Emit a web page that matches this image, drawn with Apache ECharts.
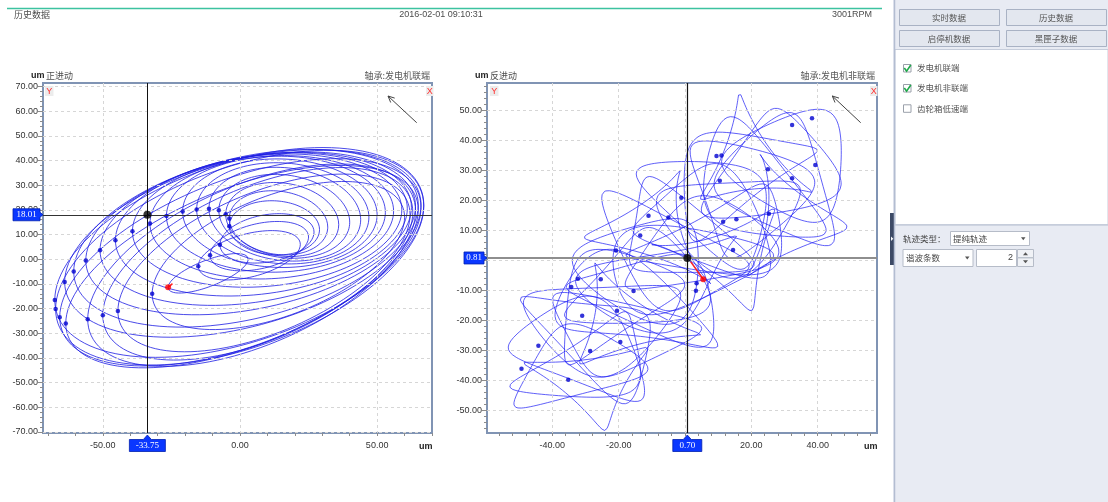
<!DOCTYPE html>
<html><head><meta charset="utf-8">
<script src="https://cdn.jsdelivr.net/npm/echarts@6/dist/echarts.min.js"></script>
<style>html,body{margin:0;padding:0;background:#fff;}#c{width:1108px;height:502px;}</style>
</head><body><div id="c"></div>
<script>
// ---------------- DATA ----------------
// Left orbit (正进动, 发电机联端): one ellipse per revolution, given by its key-phasor (left) tip,
// its right tip and its half height, all read from the picture.
const leftTipX   = [-32,-44.5,-50,-55.5,-63.5,-65.7,-67.2,-67.5,-63.9,-60.6,-56.2,-51,-45.4,-39.2,-32.8,-26.8,-20.9,-15.8,-11.3,-7.7,-5.2,-3.9,-3.9,-7.3,-10.9,-15.2,-26.2];
const leftTipY   = [-14,-21,-22.7,-24.3,-26,-23.5,-20.2,-16.5,-9.2,-5,-0.5,3.6,7.7,11.3,14.5,17.5,19.3,20.2,20.5,19.8,18.2,16.5,13.4,5.9,1.6,-2.8,-11.4];
const leftRightX = [60,62,63,64,65,66,67,67,66,65,64,62.5,61,59,56,53,50,47,44,40,36,32,29,27,25,22,3];
const leftRightY = [17,18,19,19.5,20,21,21.5,22,22,22,21.5,21,20.5,20,19.5,19,18,17,16,15,14,13,12,11,9,6,0];
const leftHalfH  = [30,36,39,41,41,42,43.5,42.5,38,36,33,31,29,27,25,23.5,22,20.5,19,17,15,13,11,10,10,10,8];
const leftCursor = [-33.75, 18.01];
const leftRedX = [-24.6,-26.2];
const leftRedY = [-9.9,-11.4];

// Right orbit (反进动, 发电机非联端): per-revolution 1X + 2X (提纯轨迹, 2 harmonics)
const rightCx = [-33,-31,-29,-27,-25,-20,-22,-16,-14,-10,-12,-6,-4,0,-2,4,6,10,8,14,18,16,22,26,29,32,-18,12,-8,20,30,-28];
const rightCy = [-36,-30,-34,-26,-20,-24,-14,-16,-8,-12,-2,-6,2,-2,8,4,12,8,18,14,22,28,24,30,26,32,-20,2,10,33,14,-40];
const r1Ax = [19,20,19,19,23,21,18,24,20,22,19,23,21,24,18,22,20,23,19,21,17,20,18,19,17,18,16,17,15,14,12,16];
const r1Ay = [13,16,14,17,15,13,18,15,16,14,17,15,18,14,16,15,17,14,18,16,19,17,20,18,21,18,14,13,16,16,18,12];
const r1Px = [0,35,80,120,165,210,250,290,335,15,60,100,145,190,230,275,320,5,50,95,140,185,230,270,315,355,40,200,300,120,260,90];
const r1Py = [290,285,20,0,80,110,185,175,260,270,330,40,25,110,120,205,220,300,295,10,45,125,110,195,210,265,300,110,200,20,170,0];
const r2Ax = [4,3,5,4,3,5,4,3,5,4,3,5,4,3,5,4,3,5,4,3,5,4,3,5,4,3,7,6,8,6,7,6];
const r2Ay = [3,4,3,5,4,3,4,5,3,4,3,4,5,3,4,3,5,4,3,4,3,5,4,3,4,3,6,7,6,7,6,5];
const r2Px = [60,200,320,90,240,10,150,280,45,190,300,70,220,350,120,260,30,170,310,80,230,0,140,270,40,180,100,250,20,300,180,60];
const r2Py = [150,290,60,200,330,110,250,20,160,300,70,210,340,100,240,10,150,280,50,190,320,100,230,0,130,270,190,340,110,30,270,150];
const rightKeyX = [38.3,32.3,9.5,11,25,39.3,32.3,10.5,-1.1,-11,-5,11.5,15.5,25.3,-13.5,-20.8,14.5,-32.3,-25.4,-34.3,-15.5,3.5,3.3,-28.6,-44.2,-49.3,-35.2,-19.5,-20.5,-31];
const rightKeyY = [47.4,45.2,34.8,35,30.4,31.8,27.4,26.6,20.9,14.9,14.3,12.9,13.7,15.6,8.3,3.3,3.5,-6.1,-6.3,-8.9,-10.2,-7.6,-10.1,-30.2,-28.5,-36.2,-39.8,-27.2,-16.8,-18.5];
const rightCursor = [0.70, 0.81];
const rightRedX = [1.7,5.5];
const rightRedY = [-0.4,-6.3];

// Axis labels
const leftXLabels = [-50,0,50];
const leftYLabels = [-70,-60,-50,-40,-30,-20,-10,0,10,20,30,40,50,60,70];
const rightXLabels = [-40,-20,0,20,40];
const rightYLabels = [-50,-40,-30,-20,-10,0,10,20,30,40,50];

// ---------------- BUILD ----------------
const FONT = "'Liberation Sans', Arial, sans-serif";
const CJK = "'Noto Sans CJK SC', 'Noto Sans', sans-serif";
const D2R = Math.PI / 180;
function range(a, b, s){ const r=[]; for(let v=a; v<=b+1e-9; v+=s) r.push(+v.toFixed(4)); return r; }
const leftXTicks = range(-70,70,10), leftYTicks = range(-70,70,2);
const rightXTicks = range(-56,56,4), rightYTicks = range(-56,58,2);

function leftOrbit(i){
  const cx=(leftTipX[i]+leftRightX[i])/2, ax=(leftRightX[i]-leftTipX[i])/2;
  const cy=(leftTipY[i]+leftRightY[i])/2, ay=leftHalfH[i];
  const cd=Math.max(-1,Math.min(1,(leftRightY[i]-leftTipY[i])/(2*ay)));
  const d=Math.acos(cd);
  const p=[];
  for(let k=0;k<=120;k++){ const t=k*3*D2R; p.push([cx+ax*Math.cos(t), cy+ay*Math.cos(t-d)]); }
  return p;
}
function rightOrbit(i){
  const p=[];
  for(let k=0;k<=120;k++){ const t=k*3*D2R;
    p.push([rightCx[i]+r1Ax[i]*Math.cos(t+r1Px[i]*D2R)+r2Ax[i]*Math.cos(2*t+r2Px[i]*D2R),
            rightCy[i]+r1Ay[i]*Math.cos(t+r1Py[i]*D2R)+r2Ay[i]*Math.cos(2*t+r2Py[i]*D2R)]); }
  return p;
}
const zip = (a,b)=>a.map((v,i)=>[v,b[i]]);

function mkAxes(gi, min, max, ticks, labels, isX){
  const base = {type:'value', gridIndex:gi, min:min, max:max, position:isX?'bottom':'left', axisLine:{show:false, onZero:false}, z:3};
  return [
    Object.assign({}, base, {axisTick:{show:true, customValues:ticks, length:3, lineStyle:{color:'#8c8c8c'}}, axisLabel:{show:false}, splitLine:{show:false}}),
    Object.assign({}, base, {axisTick:{show:true, customValues:labels, length:isX?3:5, lineStyle:{color:'#8c8c8c'}},
      axisLabel:{show:true, customValues:labels, formatter:v=>Number(v).toFixed(2), fontSize:9, color:'#333', fontFamily:FONT, margin:isX?8:5},
      splitLine:{show:true, lineStyle:{color:'#d6d6d6', type:[3,3], width:1}}})
  ];
}

const series = [];
leftTipX.forEach((_,i)=>series.push({type:'line', xAxisIndex:0, yAxisIndex:0, data:leftOrbit(i), symbol:'none', silent:true, z:2,
  lineStyle:{color:'rgba(30,30,228,0.8)', width:1}}));
rightCx.forEach((_,i)=>series.push({type:'line', xAxisIndex:2, yAxisIndex:2, data:rightOrbit(i), symbol:'none', silent:true, z:2,
  lineStyle:{color:'rgba(35,35,245,0.72)', width:1}}));
series.push({type:'scatter', xAxisIndex:0, yAxisIndex:0, data:zip(leftTipX.slice(0,-1),leftTipY.slice(0,-1)), symbolSize:4.5, itemStyle:{color:'#0000d0'}, silent:true, z:4});
series.push({type:'scatter', xAxisIndex:2, yAxisIndex:2, data:zip(rightKeyX,rightKeyY), symbolSize:4.5, itemStyle:{color:'#0000d0'}, silent:true, z:4});
series.push({type:'line', xAxisIndex:0, yAxisIndex:0, data:zip(leftRedX,leftRedY), symbol:'none', lineStyle:{color:'#ff2020', width:1.5}, silent:true, z:5});
series.push({type:'line', xAxisIndex:2, yAxisIndex:2, data:zip(rightRedX,rightRedY), symbol:'none', lineStyle:{color:'#ff2020', width:1.5}, silent:true, z:5});
series.push({type:'scatter', xAxisIndex:0, yAxisIndex:0, data:[[leftRedX[1],leftRedY[1]]], symbolSize:6, itemStyle:{color:'#ff0000'}, silent:true, z:6});
series.push({type:'scatter', xAxisIndex:2, yAxisIndex:2, data:[[rightRedX[1],rightRedY[1]]], symbolSize:6, itemStyle:{color:'#ff0000'}, silent:true, z:6});
series.push({type:'scatter', xAxisIndex:0, yAxisIndex:0, data:[leftCursor], symbolSize:8, itemStyle:{color:'#000'}, silent:true, z:7,
  markLine:{silent:true, symbol:['none','none'], label:{show:false}, animation:false,
    data:[{xAxis:leftCursor[0], lineStyle:{color:'#111', width:1, type:'solid'}}, {yAxis:leftCursor[1], lineStyle:{color:'#333', width:1, type:'solid'}}]}});
series.push({type:'scatter', xAxisIndex:2, yAxisIndex:2, data:[rightCursor], symbolSize:8, itemStyle:{color:'#000'}, silent:true, z:7,
  markLine:{silent:true, symbol:['none','none'], label:{show:false}, animation:false,
    data:[{yAxis:rightCursor[1], lineStyle:{color:'#8e8e8e', width:2, type:'solid'}}, {xAxis:rightCursor[0], lineStyle:{color:'#111', width:1.2, type:'solid'}}]}});

// static chrome
const G = [];
function T(x,y,text,o){ G.push({type:'text', x:x, y:y, silent:true, z:100,
  style:Object.assign({text:text, fill:'#4d4d4d', font:'9px '+CJK, align:'left', textAlign:'left', verticalAlign:'middle', textVerticalAlign:'middle'}, o||{})}); }
function R(x,y,w,h,fill,stroke,lw){ G.push({type:'rect', silent:true, z:90, shape:{x:x,y:y,width:w,height:h}, style:{fill:fill, stroke:stroke||null, lineWidth:lw||1}}); }
function L(pts,stroke,lw,z){ G.push({type:'polyline', silent:true, z:z||95, shape:{points:pts}, style:{stroke:stroke, lineWidth:lw||1, fill:null}}); }
function P(pts,fill,z){ G.push({type:'polygon', silent:true, z:z||96, shape:{points:pts}, style:{fill:fill}}); }

// header
L([[7,8.5],[882,8.5]],'#3cc2a0',1.5);
T(14,15,'历史数据');
T(441,15,'2016-02-01 09:10:31',{font:'9px '+FONT, align:'center', textAlign:'center'});
T(872,15,'3001RPM',{font:'9px '+FONT, align:'right', textAlign:'right'});
// chart titles
T(31,76,'um',{font:'bold 9px '+FONT, fill:'#222'});
T(46,76,'正进动');
T(430,76,'轴承:发电机联端',{align:'right', textAlign:'right', fill:'#555'});
T(475,76,'um',{font:'bold 9px '+FONT, fill:'#222'});
T(490,76,'反进动');
T(875,76,'轴承:发电机非联端',{align:'right', textAlign:'right', fill:'#555'});
T(419,447,'um',{font:'bold 9px '+FONT, fill:'#222'});
T(864,447,'um',{font:'bold 9px '+FONT, fill:'#222'});
// Y / X markers
[[45,426],[490,870]].forEach(function(p){
  R(p[0],86,8.5,10,'#ececec'); T(p[0]+4.25,91.5,'Y',{font:'9px '+FONT, fill:'#ff3030', align:'center', textAlign:'center'});
  R(p[1],86,7.5,10,'#ececec'); T(p[1]+3.75,91.5,'X',{font:'9px '+FONT, fill:'#ff3030', align:'center', textAlign:'center'});
});
// arrows
[[416.7,122.7,388,96],[860.7,122.7,832.3,96]].forEach(function(a){
  L([[a[0],a[1]],[a[2],a[3]]],'#444',1);
  L([[a[2]+2.7,a[3]+6.5],[a[2],a[3]],[a[2]+6.7,a[3]+2.1]],'#444',1);
});
// right panel
R(893,0,215,502,'#e8ebf3');
L([[894.5,0],[894.5,502]],'#b3bdd1',1.5);
[[899,9,'实时数据'],[1006,9,'历史数据'],[899,30,'启停机数据'],[1006,30,'黑匣子数据']].forEach(function(b){
  R(b[0]+0.5,b[1]+0.5,100,16,'#e3e7ef','#a9b2c4',1);
  T(b[0]+50,b[1]+8.5,b[2],{align:'center', textAlign:'center', font:'8.5px '+CJK, fill:'#555'});
});
R(895,49.5,213,175,'#ffffff','#c6cddb',1);
[[64,true,'发电机联端'],[84,true,'发电机非联端'],[104.3,false,'齿轮箱低速端']].forEach(function(c){
  R(903.5,c[0]+0.5,7.5,7.5,'#ffffff','#9aa0aa',1);
  if(c[1]) L([[904.3,c[0]+4],[906.6,c[0]+7.2],[910.8,c[0]+1]],'#1fa84a',1.6,97);
  T(917,c[0]+4,c[2],{font:'8.5px '+CJK, fill:'#555'});
});
L([[895,225],[1108,225]],'#c6cddb',1.5);
R(890,213,5,52,'#3d4a66');
P([[891,236.5],[893.3,238.7],[891,241]],'#ffffff',97);
T(903,238.5,'轨迹类型：',{font:'8.5px '+CJK, fill:'#444'});
R(950.5,231.5,79,14,'#ffffff','#b6bcc8',1);
T(953,238.7,'提纯轨迹',{font:'8.5px '+CJK, fill:'#444'});
P([[1021,237.3],[1025.5,237.3],[1023.25,240.2]],'#555',97);
R(903,249.5,70,17,'#ffffff','#b6bcc8',1);
T(906,258,'谐波条数',{font:'8.5px '+CJK, fill:'#444'});
P([[965,256.6],[969.5,256.6],[967.25,259.5]],'#555',97);
R(976.5,249.5,40,17,'#ffffff','#b6bcc8',1);
T(1013,258,'2',{font:'9px '+FONT, fill:'#444', align:'right', textAlign:'right'});
R(1017.5,249.5,16,8.3,'#f0f2f6','#b6bcc8',1);
R(1017.5,257.9,16,8.6,'#f0f2f6','#b6bcc8',1);
P([[1023,255.3],[1028,255.3],[1025.5,252.3]],'#555',97);
P([[1023,260.3],[1028,260.3],[1025.5,263.3]],'#555',97);

const chart = echarts.init(document.getElementById('c'));
const option = {
  animation:false,
  backgroundColor:'#ffffff',
  grid:[{left:43, top:83, width:389, height:350, show:true, borderColor:'#8094b4', borderWidth:2, backgroundColor:'#fff'},
        {left:487, top:83, width:390, height:350, show:true, borderColor:'#8094b4', borderWidth:2, backgroundColor:'#fff'}],
  xAxis:[].concat(mkAxes(0,-71.8,70,leftXTicks,leftXLabels,true), mkAxes(1,-59.7,57.9,rightXTicks,rightXLabels,true)),
  yAxis:[].concat(mkAxes(0,-70.4,71.4,leftYTicks,leftYLabels,false), mkAxes(1,-57.6,59.2,rightYTicks,rightYLabels,false)),
  series:series,
  graphic:G
};
chart.setOption(option);

// cursor value tags, positioned through the chart's own scales
const tags = [];
function tagText(x,y,t){ tags.push({type:'text', x:x, y:y, silent:true, z:120, style:{text:t, fill:'#ffffff', font:"9px 'Liberation Serif','DejaVu Serif',serif", align:'center', textAlign:'center', verticalAlign:'middle', textVerticalAlign:'middle'}}); }
function yTag(gi, val, gl, w){
  const py = chart.convertToPixel({gridIndex:gi},[0,val])[1];
  const r = gl-3, l = r-w;
  tags.push({type:'polygon', silent:true, z:119, shape:{points:[[l,py-6],[r,py-6],[r,py-2.5],[gl,py],[r,py+2.5],[r,py+6],[l,py+6]]}, style:{fill:'#0a37ff', stroke:'#0020b0', lineWidth:0.8}});
  tagText((l+r)/2, py, val.toFixed(2));
}
function xTag(gi, val, w){
  const px = chart.convertToPixel({gridIndex:gi},[val,0])[0];
  const t = 439.5, b = 451.5, l = px-w/2, r = px+w/2;
  tags.push({type:'polygon', silent:true, z:119, shape:{points:[[l,t],[px-4,t],[px,435],[px+4,t],[r,t],[r,b],[l,b]]}, style:{fill:'#0a37ff', stroke:'#0020b0', lineWidth:0.8}});
  tagText(px, (t+b)/2, val.toFixed(2));
}
yTag(0, leftCursor[1], 43, 27);
xTag(0, leftCursor[0], 36);
yTag(1, rightCursor[1], 487, 20);
xTag(1, rightCursor[0], 29);
chart.setOption({graphic:G.concat(tags)});
</script></body></html>
